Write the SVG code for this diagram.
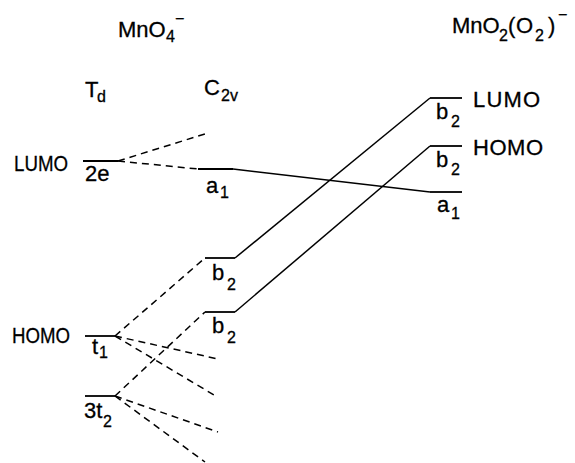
<svg xmlns="http://www.w3.org/2000/svg" width="575" height="463" viewBox="0 0 575 463">
<style>
text{font-family:"Liberation Sans","DejaVu Sans",sans-serif;fill:#000;font-size:22px;stroke:#000;stroke-width:0.3}
.s{font-size:16px}
.lv{stroke:#000;stroke-width:1.8;fill:none}
.ln{stroke:#000;stroke-width:1.5;fill:none}
.d{stroke:#000;stroke-width:1.5;fill:none;stroke-dasharray:7 5}
</style>
<rect width="575" height="463" fill="#fff"/>
<g id="titles">
<text x="118" y="37">MnO</text><text class="s" x="166" y="42">4</text><text x="175" y="24" class="s">−</text>
<text x="85" y="97">T</text><text class="s" x="97" y="102">d</text>
<text x="204" y="95">C</text><text class="s" x="221" y="101">2v</text>
<text x="452" y="33">MnO</text><text class="s" x="499" y="41">2</text><text x="508" y="33">(</text><text x="516" y="33">O</text><text class="s" x="535" y="41">2</text><text x="548" y="33">)</text><text class="s" x="558" y="20">−</text>
</g>
<g id="connectors">
<path class="d" d="M118 161 L208 133"/>
<path class="d" d="M118 161 L198 169"/>
<path class="ln" d="M233 169 L430 192"/>
<path class="ln" d="M235 258 L430 98"/>
<path class="ln" d="M235 312 L430 146"/>
<path class="d" d="M115 336 L205 258"/>
<path class="d" d="M115 336 L218 359"/>
<path class="d" d="M115 336 L214 395"/>
<path class="d" d="M115 396 L205 312"/>
<path class="d" d="M115 396 L218 432"/>
<path class="d" d="M115 396 L205 462"/>
</g>
<g id="level-2e">
<path class="lv" d="M83 161 H118"/>
<text x="14" y="171" textLength="54" lengthAdjust="spacingAndGlyphs">LUMO</text>
<text x="85" y="181">2e</text>
</g>
<g id="level-a1-c2v">
<path class="lv" d="M198 169 H233"/>
<text x="206" y="193">a</text><text class="s" x="220" y="198">1</text>
</g>
<g id="level-b2-upper-c2v">
<path class="lv" d="M205 258 H235"/>
<text x="212" y="280">b</text><text class="s" x="227" y="290">2</text>
</g>
<g id="level-b2-lower-c2v">
<path class="lv" d="M205 312 H235"/>
<text x="212" y="333">b</text><text class="s" x="227" y="343">2</text>
</g>
<g id="level-t1">
<path class="lv" d="M85 336 H115"/>
<text x="12" y="343" textLength="58" lengthAdjust="spacingAndGlyphs">HOMO</text>
<text x="92" y="354">t</text><text class="s" x="99" y="358">1</text>
</g>
<g id="level-3t2">
<path class="lv" d="M85 396 H115"/>
<text x="84" y="418">3t</text><text class="s" x="103" y="427">2</text>
</g>
<g id="level-b2-lumo">
<path class="lv" d="M430 98 H462"/>
<text x="436" y="119">b</text><text class="s" x="451" y="127">2</text>
<text x="473" y="107" textLength="67">LUMO</text>
</g>
<g id="level-b2-homo">
<path class="lv" d="M430 146 H462"/>
<text x="436" y="167">b</text><text class="s" x="451" y="175">2</text>
<text x="473" y="155" textLength="70">HOMO</text>
</g>
<g id="level-a1-right">
<path class="lv" d="M430 192 H462"/>
<text x="437" y="212">a</text><text class="s" x="451" y="219">1</text>
</g>
</svg>
